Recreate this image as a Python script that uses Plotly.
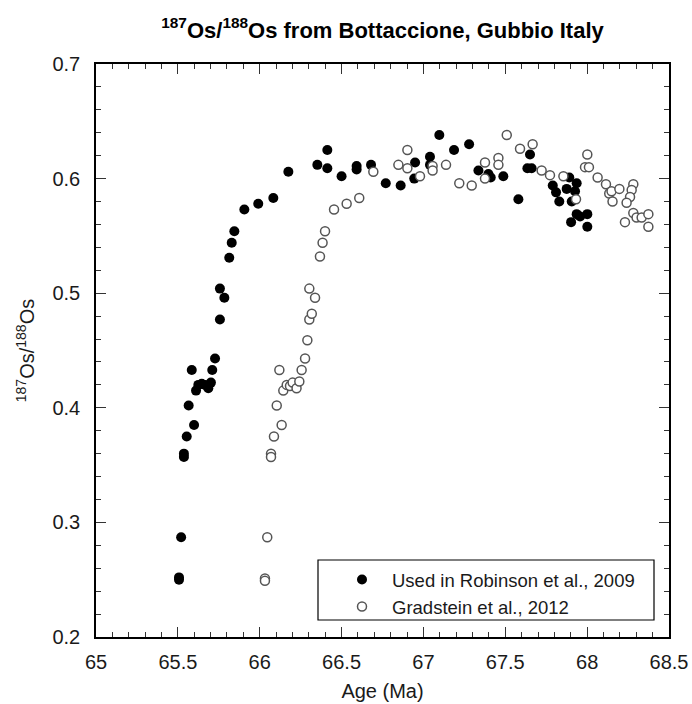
import plotly.graph_objects as go

# ---- data: Used in Robinson et al., 2009 (filled) ----
rob_age = [65.507, 65.507, 65.520, 65.537, 65.537, 65.554, 65.599, 65.566,
           65.611, 65.625, 65.646, 65.666, 65.686, 65.702, 65.585, 65.710,
           65.727, 65.757, 65.757, 65.784, 65.814, 65.829, 65.845, 65.906,
           65.991, 66.083, 66.175, 66.352, 66.413, 66.413, 66.500, 66.592,
           66.592, 66.680, 66.770, 66.861, 66.949, 66.944, 67.040, 67.040,
           67.097, 67.187, 67.279, 67.336, 67.397, 67.411, 67.488, 67.580,
           67.651, 67.635, 67.661, 67.790, 67.810, 67.830, 67.891, 67.875,
           67.936, 67.926, 67.906, 67.902, 67.936, 67.957, 68.001, 68.001]
rob_os = [0.252, 0.250, 0.287, 0.360, 0.357, 0.375, 0.385, 0.402,
          0.415, 0.420, 0.421, 0.420, 0.417, 0.422, 0.433, 0.433,
          0.443, 0.477, 0.504, 0.496, 0.531, 0.544, 0.554, 0.573,
          0.578, 0.583, 0.606, 0.612, 0.625, 0.609, 0.602, 0.611,
          0.608, 0.612, 0.596, 0.594, 0.614, 0.600, 0.619, 0.612,
          0.638, 0.625, 0.630, 0.607, 0.604, 0.601, 0.602, 0.582,
          0.621, 0.609, 0.609, 0.594, 0.588, 0.580, 0.601, 0.591,
          0.596, 0.589, 0.580, 0.562, 0.569, 0.567, 0.569, 0.558]

# ---- data: Gradstein et al., 2012 (open) ----
gra_age = [66.032, 66.032, 66.046, 66.069, 66.069, 66.087, 66.134, 66.104,
           66.120, 66.144, 66.165, 66.185, 66.201, 66.225, 66.242, 66.256,
           66.277, 66.291, 66.303, 66.318, 66.338, 66.303, 66.368, 66.384,
           66.399, 66.454, 66.531, 66.608, 66.694, 66.847, 66.902, 66.902,
           66.979, 67.056, 67.056, 67.138, 67.219, 67.295, 67.376, 67.376,
           67.458, 67.458, 67.509, 67.590, 67.667, 67.722, 67.773, 67.855,
           67.932, 68.001, 67.987, 68.011, 68.064, 68.115, 68.135, 68.149,
           68.155, 68.197, 68.282, 68.272, 68.262, 68.241, 68.231, 68.282,
           68.302, 68.333, 68.374, 68.374]
gra_os = [0.251, 0.249, 0.287, 0.360, 0.357, 0.375, 0.385, 0.402,
          0.433, 0.415, 0.420, 0.419, 0.422, 0.417, 0.423, 0.433,
          0.443, 0.459, 0.477, 0.482, 0.496, 0.504, 0.532, 0.544,
          0.554, 0.573, 0.578, 0.583, 0.606, 0.612, 0.625, 0.609,
          0.602, 0.611, 0.607, 0.612, 0.596, 0.594, 0.614, 0.600,
          0.618, 0.612, 0.638, 0.626, 0.630, 0.607, 0.603, 0.602,
          0.582, 0.621, 0.610, 0.610, 0.601, 0.595, 0.587, 0.589,
          0.580, 0.591, 0.595, 0.590, 0.584, 0.579, 0.562, 0.570,
          0.566, 0.566, 0.569, 0.558]

x_ticks = [65, 65.5, 66, 66.5, 67, 67.5, 68, 68.5]
x_ticktext = ["65", "65.5", "66", "66.5", "67", "67.5", "68", "68.5"]
y_ticks = [0.2, 0.3, 0.4, 0.5, 0.6, 0.7]
y_ticktext = ["0.2", "0.3", "0.4", "0.5", "0.6", "0.7"]

FONT = "Liberation Sans, Arial, sans-serif"
TXT = "#1a1a1a"

fig = go.Figure()
fig.add_trace(go.Scatter(
    x=rob_age, y=rob_os, mode="markers", name="Used in Robinson et al., 2009",
    marker=dict(size=10, color="black", line=dict(width=0))))
fig.add_trace(go.Scatter(
    x=gra_age, y=gra_os, mode="markers", name="Gradstein et al., 2012",
    marker=dict(size=9, color="white", line=dict(width=1.5, color="#555555"))))

axis_common = dict(
    showgrid=False, zeroline=False, showline=True, linecolor="black",
    linewidth=1.5, mirror="ticks", ticks="inside", ticklen=10, tickwidth=1.2,
    tickcolor="#333333", tickfont=dict(family=FONT, size=20, color=TXT),
    automargin=False,
)

fig.update_xaxes(
    range=[65, 68.5], tickvals=x_ticks, ticktext=x_ticktext, ticklabelstandoff=6,
    minor=dict(dtick=0.1, ticks="inside", ticklen=5, tickwidth=1, tickcolor="#333333"),
    title=dict(text="Age (Ma)", font=dict(family=FONT, size=20, color=TXT), standoff=12),
    **axis_common)
fig.update_yaxes(
    range=[0.2, 0.7], tickvals=y_ticks, ticktext=y_ticktext, ticklabelstandoff=10,
    minor=dict(dtick=0.02, ticks="inside", ticklen=5, tickwidth=1, tickcolor="#333333"),
    title=dict(text="<sup>187</sup>Os/<sup>188</sup>Os", font=dict(family=FONT, size=20, color=TXT), standoff=12),
    **axis_common)

fig.add_shape(type="rect", xref="paper", yref="paper",
              x0=(318 - 96) / 573, x1=(654 - 96) / 573,
              y0=(637 - 620) / 573, y1=(637 - 560) / 573,
              line=dict(color="black", width=1.2), fillcolor="white", layer="below")

fig.update_layout(
    width=692, height=704,
    margin=dict(l=96, r=23, t=64, b=67, autoexpand=False),
    paper_bgcolor="white", plot_bgcolor="white",
    title=dict(text="<b><sup>187</sup>Os/<sup>188</sup>Os from Bottaccione, Gubbio Italy</b>",
               x=(382.5) / 692, xanchor="center", y=1 - 30 / 704, yanchor="middle",
               font=dict(family=FONT, size=22, color="black")),
    legend=dict(x=(332 - 96) / 573, xanchor="left", y=(637 - 561) / 573, yanchor="top",
                bgcolor="rgba(0,0,0,0)", borderwidth=0, itemwidth=50,
                font=dict(family=FONT, size=18.5, color=TXT), tracegroupgap=0),
    showlegend=True,
)

fig.write_html("out.html")
